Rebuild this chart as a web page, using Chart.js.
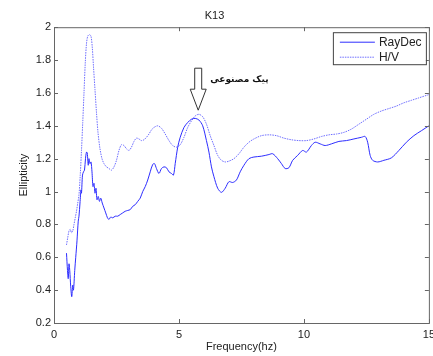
<!DOCTYPE html>
<html>
<head>
<meta charset="utf-8">
<script src="https://cdn.jsdelivr.net/npm/chart.js@4"></script>
<style>
  html, body { margin: 0; padding: 0; overflow: hidden; background: #fff; }
</style>
</head>
<body>
<canvas id="myCanvas" width="440" height="356"></canvas>
<script>
// RayDec curve (solid)
const rdFreq = [0.5, 0.54, 0.57, 0.6, 0.63, 0.67, 0.71, 0.75, 0.78, 0.83, 0.87, 0.92, 0.97, 1.0, 1.04, 1.08, 1.1, 1.14, 1.18, 1.22, 1.26, 1.3, 1.33, 1.37, 1.4, 1.44, 1.48, 1.52, 1.56, 1.6, 1.64, 1.68, 1.72, 1.77, 1.82, 1.87, 1.93, 2.0, 2.07, 2.14, 2.2, 2.27, 2.35, 2.45, 2.55, 2.65, 2.75, 2.85, 2.95, 3.05, 3.15, 3.25, 3.35, 3.45, 3.55, 3.65, 3.75, 3.85, 3.95, 4.02, 4.1, 4.2, 4.3, 4.4, 4.5, 4.6, 4.7, 4.78, 4.85, 4.95, 5.05, 5.2, 5.35, 5.5, 5.65, 5.8, 5.95, 6.1, 6.2, 6.3, 6.4, 6.55, 6.7, 6.85, 7.0, 7.15, 7.3, 7.45, 7.6, 7.8, 8.0, 8.3, 8.6, 8.75, 8.95, 9.1, 9.25, 9.4, 9.55, 9.75, 9.95, 10.1, 10.3, 10.45, 10.65, 10.85, 11.1, 11.4, 11.7, 12.0, 12.3, 12.45, 12.55, 12.65, 12.75, 12.95, 13.2, 13.5, 13.8, 14.1, 14.4, 14.7, 15.0];
const rdValues = [0.625, 0.52, 0.47, 0.56, 0.52, 0.42, 0.36, 0.43, 0.40, 0.52, 0.6, 0.70, 0.82, 0.85, 0.93, 1.01, 0.99, 1.1, 1.12, 1.13, 1.2, 1.24, 1.235, 1.16, 1.2, 1.17, 1.18, 1.12, 1.03, 1.05, 0.99, 1.02, 0.95, 0.97, 0.94, 0.96, 0.93, 0.9, 0.87, 0.84, 0.83, 0.845, 0.84, 0.85, 0.85, 0.86, 0.87, 0.88, 0.885, 0.89, 0.91, 0.92, 0.94, 0.96, 1.0, 1.03, 1.07, 1.12, 1.165, 1.17, 1.14, 1.11, 1.14, 1.15, 1.145, 1.12, 1.11, 1.1, 1.17, 1.27, 1.33, 1.39, 1.42, 1.44, 1.445, 1.435, 1.4, 1.31, 1.24, 1.15, 1.09, 1.02, 0.995, 1.02, 1.06, 1.055, 1.07, 1.12, 1.16, 1.2, 1.21, 1.215, 1.225, 1.23, 1.2, 1.17, 1.14, 1.145, 1.19, 1.22, 1.25, 1.24, 1.28, 1.3, 1.29, 1.28, 1.29, 1.305, 1.31, 1.32, 1.33, 1.335, 1.3, 1.22, 1.19, 1.18, 1.19, 1.205, 1.25, 1.3, 1.34, 1.37, 1.4];

// H/V curve (dotted)
const hvFreq = [0.5, 0.55, 0.6, 0.65, 0.7, 0.75, 0.8, 0.85, 0.9, 0.95, 1.0, 1.05, 1.1, 1.15, 1.2, 1.25, 1.3, 1.35, 1.42, 1.48, 1.53, 1.58, 1.64, 1.7, 1.76, 1.84, 1.92, 2.0, 2.1, 2.2, 2.3, 2.4, 2.5, 2.6, 2.7, 2.8, 2.9, 3.0, 3.1, 3.2, 3.3, 3.4, 3.5, 3.6, 3.7, 3.8, 3.9, 4.0, 4.15, 4.3, 4.45, 4.6, 4.75, 4.9, 5.05, 5.2, 5.35, 5.5, 5.65, 5.8, 5.95, 6.1, 6.25, 6.4, 6.55, 6.7, 6.85, 7.0, 7.2, 7.4, 7.6, 7.8, 8.0, 8.3, 8.6, 8.9, 9.2, 9.5, 9.8, 10.1, 10.4, 10.7, 11.0, 11.3, 11.6, 11.9, 12.2, 12.5, 12.8, 13.1, 13.4, 13.7, 14.0, 14.3, 14.6, 15.0];
const hvValues = [0.675, 0.72, 0.76, 0.77, 0.75, 0.76, 0.80, 0.84, 0.88, 0.93, 0.98, 1.1, 1.25, 1.42, 1.6, 1.78, 1.9, 1.945, 1.955, 1.945, 1.88, 1.76, 1.62, 1.48, 1.36, 1.26, 1.2, 1.17, 1.15, 1.14, 1.13, 1.15, 1.19, 1.25, 1.285, 1.28, 1.26, 1.25, 1.27, 1.305, 1.325, 1.32, 1.31, 1.315, 1.33, 1.35, 1.375, 1.39, 1.4, 1.385, 1.35, 1.31, 1.28, 1.27, 1.285, 1.33, 1.39, 1.43, 1.46, 1.47, 1.455, 1.41, 1.34, 1.28, 1.22, 1.19, 1.18, 1.185, 1.2, 1.23, 1.27, 1.3, 1.32, 1.34, 1.345, 1.34, 1.325, 1.315, 1.31, 1.31, 1.32, 1.335, 1.345, 1.35, 1.36, 1.38, 1.41, 1.44, 1.47, 1.49, 1.505, 1.52, 1.54, 1.555, 1.57, 1.59];

const seriesNames = ['RayDec', 'H/V'];
const xTicks = [0, 5, 10, 15];
const yTicks = [0.2, 0.4, 0.6, 0.8, 1, 1.2, 1.4, 1.6, 1.8, 2];
const arrowAt = { x: 5.77, y: 1.495 };
const arrowLabel = 'پیک مصنوعی';

const rdColor = 'rgb(45,45,255)';
const hvColor = 'rgb(110,110,255)';

// ticks inward, box, legend, arrow (matlab look)
const decoPlugin = {
  id: 'deco',
  afterDraw(chart) {
    const ctx = chart.ctx;
    const a = chart.chartArea;
    const xs = chart.scales.x, ys = chart.scales.y;
    ctx.save();
    ctx.strokeStyle = '#666';
    ctx.lineWidth = 1;
    ctx.strokeRect(a.left + 0.5, a.top + 0.5, a.right - a.left, a.bottom - a.top);
    ctx.beginPath();
    xTicks.forEach(v => {
      const px = Math.round(xs.getPixelForValue(v)) + 0.5;
      ctx.moveTo(px, a.bottom); ctx.lineTo(px, a.bottom - 4);
      ctx.moveTo(px, a.top); ctx.lineTo(px, a.top + 4);
    });
    yTicks.forEach(v => {
      const py = Math.round(ys.getPixelForValue(v)) + 0.5;
      ctx.moveTo(a.left, py); ctx.lineTo(a.left + 4, py);
      ctx.moveTo(a.right, py); ctx.lineTo(a.right - 4, py);
    });
    ctx.stroke();

    // legend
    const lx = a.right - 96, ly = a.top + 5, lw = 93, lh = 32;
    ctx.fillStyle = '#fff';
    ctx.fillRect(lx, ly, lw, lh);
    ctx.strokeStyle = '#444';
    ctx.strokeRect(lx + 0.5, ly + 0.5, lw, lh);
    ctx.font = '12px "Liberation Sans", Arial, sans-serif';
    ctx.textBaseline = 'middle';
    ctx.textAlign = 'left';
    [rdColor, hvColor].forEach((c, i) => {
      const yy = ly + 10 + i * 15;
      ctx.strokeStyle = c;
      ctx.setLineDash(i === 1 ? [1.5, 1] : []);
      ctx.beginPath();
      ctx.moveTo(lx + 7, yy); ctx.lineTo(lx + 42, yy);
      ctx.stroke();
      ctx.setLineDash([]);
      ctx.fillStyle = '#222';
      ctx.fillText(seriesNames[i], lx + 46, yy);
    });

    // hollow arrow
    const tx = xs.getPixelForValue(arrowAt.x), ty = ys.getPixelForValue(arrowAt.y);
    ctx.strokeStyle = '#333';
    ctx.lineWidth = 1;
    ctx.beginPath();
    ctx.moveTo(tx, ty);
    ctx.lineTo(tx - 8, ty - 21);
    ctx.lineTo(tx - 3.5, ty - 21);
    ctx.lineTo(tx - 3.5, ty - 42);
    ctx.lineTo(tx + 3.5, ty - 42);
    ctx.lineTo(tx + 3.5, ty - 21);
    ctx.lineTo(tx + 8, ty - 21);
    ctx.closePath();
    ctx.stroke();
    ctx.fillStyle = '#111';
    ctx.font = 'bold 9px "DejaVu Sans", sans-serif';
    ctx.textAlign = 'left';
    ctx.fillText(arrowLabel, tx + 12, ty - 31);
    ctx.restore();
  }
};

const chartData = {
  datasets: [
    {
      label: seriesNames[0],
      data: rdFreq.map((f, i) => ({ x: f, y: rdValues[i] })),
      borderColor: rdColor,
      borderWidth: 1,
      pointRadius: 0,
      tension: 0.3
    },
    {
      label: seriesNames[1],
      data: hvFreq.map((f, i) => ({ x: f, y: hvValues[i] })),
      borderColor: hvColor,
      borderWidth: 1,
      borderDash: [1.5, 1],
      pointRadius: 0,
      tension: 0.3
    }
  ]
};

const tickFont = { family: '"Liberation Sans", Arial, sans-serif', size: 11 };

new Chart(document.getElementById('myCanvas'), {
  type: 'line',
  data: chartData,
  options: {
    responsive: false,
    animation: false,
    layout: { padding: { left: 0, right: 11, top: 0, bottom: 0 } },
    plugins: {
      legend: { display: false },
      tooltip: { enabled: false },
      title: {
        display: true,
        text: 'K13',
        color: '#222',
        font: { family: '"Liberation Sans", Arial, sans-serif', size: 11, weight: 'normal' },
        padding: { top: 9, bottom: 5 }
      }
    },
    scales: {
      x: {
        type: 'linear',
        min: 0, max: 15,
        afterBuildTicks: s => { s.ticks = xTicks.map(v => ({ value: v })); },
        afterFit: s => { s.height = 33; },
        grid: { display: false, drawTicks: false },
        border: { display: false },
        ticks: { color: '#222', font: tickFont, padding: 5, maxRotation: 0 },
        title: { display: true, text: 'Frequency(hz)', color: '#222', font: tickFont, padding: { top: 0, bottom: 2 } }
      },
      y: {
        type: 'linear',
        min: 0.2, max: 2,
        afterBuildTicks: s => { s.ticks = yTicks.map(v => ({ value: v })); },
        afterFit: s => { s.width = 54; },
        grid: { display: false, drawTicks: false },
        border: { display: false },
        ticks: { color: '#222', font: tickFont, padding: 3, callback: v => String(+v.toFixed(1)) },
        title: { display: true, text: 'Ellipticity', color: '#222', font: tickFont, padding: { top: 17, bottom: 0 } }
      }
    }
  },
  plugins: [decoPlugin]
});
</script>
</body>
</html>
